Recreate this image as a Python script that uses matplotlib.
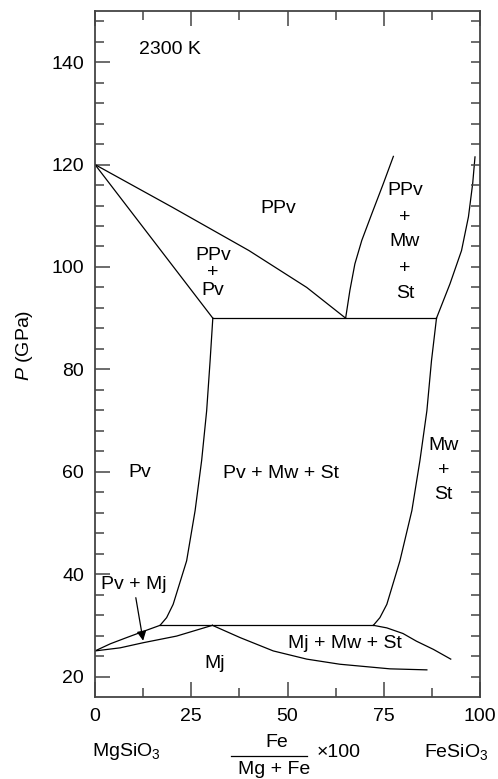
import matplotlib
matplotlib.use("Agg")
import matplotlib.pyplot as plt
import numpy as np

plt.rcParams["font.family"] = ["Liberation Sans", "DejaVu Sans"]
plt.rcParams["mathtext.fontset"] = "custom"
plt.rcParams["mathtext.rm"] = "Liberation Sans"
plt.rcParams["mathtext.it"] = "Liberation Sans:italic"

# phase boundaries, x = Fe/(Mg+Fe)*100, P in GPa
ppv_in_x = [0, 20, 40, 55, 65.1]
ppv_in_p = [120, 111.7, 103.2, 96.0, 90.0]

ppv_pv_x = [0, 30.6]
ppv_pv_p = [120, 90.0]

line90_x = [30.6, 88.7]
line90_p = [90.0, 90.0]

ppv_mw_x = [65.1, 66.2, 67.5, 69.3, 71.9, 74.9, 77.5]
ppv_mw_p = [90.0, 95.4, 100.6, 105.2, 110.4, 116.3, 121.6]

ppv_right_x = [88.7, 92.2, 95.2, 97.0, 98.1, 98.7]
ppv_right_p = [90.0, 96.7, 103.2, 109.8, 116.3, 121.5]

pv_out_x = [16.9, 18.6, 20.3, 23.8, 26.0, 27.7, 29.0, 29.9, 30.6]
pv_out_p = [30.0, 31.5, 34.1, 42.6, 52.4, 62.2, 71.9, 81.7, 90.0]

line30_x = [16.9, 72.3]
line30_p = [30.0, 30.0]

mwst_x = [72.3, 74.0, 75.8, 79.2, 82.3, 84.4, 86.2, 87.4, 88.7]
mwst_p = [30.0, 31.5, 34.1, 42.6, 52.4, 62.2, 71.9, 81.7, 90.0]

pvmj_top_x = [0, 4.0, 8.2, 12.5, 16.9]
pvmj_top_p = [25.0, 26.4, 27.6, 28.8, 30.0]

mj_left_x = [0, 6.5, 12.5, 21.2, 30.5]
mj_left_p = [25.0, 25.6, 26.6, 27.9, 30.0]

mj_right_x = [30.5, 37.7, 46.3, 55.0, 63.6, 76.6, 86.2]
mj_right_p = [30.0, 27.6, 25.0, 23.4, 22.4, 21.5, 21.3]

mjmw_x = [72.3, 75.8, 80.0, 83.5, 87.9, 92.4]
mjmw_p = [30.0, 29.5, 28.4, 26.9, 25.3, 23.4]

boundaries = [
    (ppv_in_x, ppv_in_p), (ppv_pv_x, ppv_pv_p), (line90_x, line90_p),
    (ppv_mw_x, ppv_mw_p), (ppv_right_x, ppv_right_p), (pv_out_x, pv_out_p),
    (line30_x, line30_p), (mwst_x, mwst_p), (pvmj_top_x, pvmj_top_p),
    (mj_left_x, mj_left_p), (mj_right_x, mj_right_p), (mjmw_x, mjmw_p),
]

# field labels: text, x, P
label_text = ["2300 K", "PPv", "PPv", "+", "Pv",
              "PPv", "+", "Mw", "+", "St",
              "Mw", "+", "St", "Pv", "Pv + Mw + St",
              "Pv + Mj", "Mj", "Mj + Mw + St"]
label_x = [19.5, 47.6, 30.7, 30.7, 30.7,
           80.5, 80.5, 80.5, 80.5, 80.5,
           90.6, 90.6, 90.6, 11.7, 48.4,
           10.0, 31.2, 64.9]
label_p = [142.4, 111.4, 102.3, 99.0, 95.4,
           115.0, 109.6, 104.9, 99.7, 94.9,
           65.1, 60.2, 55.6, 59.9, 59.6,
           37.9, 22.5, 26.4]

arrow_from = (10.6, 35.4)
arrow_to = (12.5, 27.0)

x_major = [0, 25, 50, 75, 100]
x_minor = [12.5, 37.5, 62.5, 87.5]
y_major = [20, 40, 60, 80, 100, 120, 140]
y_minor = np.arange(20, 150, 4)

SPINE = "#444444"
FS = 14

fig = plt.figure(figsize=(4.98, 7.79), dpi=100)
ax = fig.add_axes([95 / 498, 1 - 697 / 779, 385 / 498, 686 / 779])

for bx, bp in boundaries:
    ax.plot(bx, bp, color="black", linewidth=0.9, solid_joinstyle="round")

for t, x, p in zip(label_text, label_x, label_p):
    ax.text(x, p, t, fontsize=FS, ha="center", va="center")

ax.annotate("", xy=arrow_to, xytext=arrow_from,
            arrowprops=dict(arrowstyle="-|>", color="black", lw=0.9,
                            mutation_scale=14, shrinkA=0, shrinkB=0))

ax.set_xlim(0, 100)
ax.set_ylim(16, 150)

ax.set_xticks(x_major)
ax.set_xticks(x_minor, minor=True)
ax.set_yticks(y_major)
ax.set_yticks(y_minor, minor=True)
ax.tick_params(axis="both", which="major", direction="in", length=11,
               width=1.1, color=SPINE, labelsize=FS, pad=8)
ax.tick_params(axis="both", which="minor", direction="in", length=6.5,
               width=1.1, color=SPINE)
ax.tick_params(axis="x", which="both", top=True)
ax.tick_params(axis="y", which="both", right=False)

for s in ax.spines.values():
    s.set_color(SPINE)
    s.set_linewidth(1.3)

# right spine: short ticks only
axr = ax.twinx()
axr.set_ylim(16, 150)
axr.set_yticks(y_minor)
axr.tick_params(axis="y", direction="in", length=6.5, width=1.1,
                color=SPINE, labelright=False)
for s in axr.spines.values():
    s.set_visible(False)

ax.text(-0.182, 0.512, "$P$ (GPa)", transform=ax.transAxes, rotation=90,
        ha="center", va="center", fontsize=FS)

ax.text(-0.009, -0.080, r"MgSiO$_3$", transform=ax.transAxes,
        ha="left", va="center", fontsize=FS)
ax.text(1.021, -0.080, r"FeSiO$_3$", transform=ax.transAxes,
        ha="right", va="center", fontsize=FS)
ax.text(0.472, -0.066, "Fe", transform=ax.transAxes,
        ha="center", va="center", fontsize=FS)
ax.text(0.465, -0.1055, "Mg + Fe", transform=ax.transAxes,
        ha="center", va="center", fontsize=FS)
ax.plot([0.353, 0.551], [-0.0865, -0.0865], transform=ax.transAxes,
        color="black", linewidth=0.9, clip_on=False)
ax.text(0.576, -0.0805, "\u00d7100", transform=ax.transAxes,
        ha="left", va="center", fontsize=FS)

fig.savefig("out.png", dpi=100, facecolor="white")
